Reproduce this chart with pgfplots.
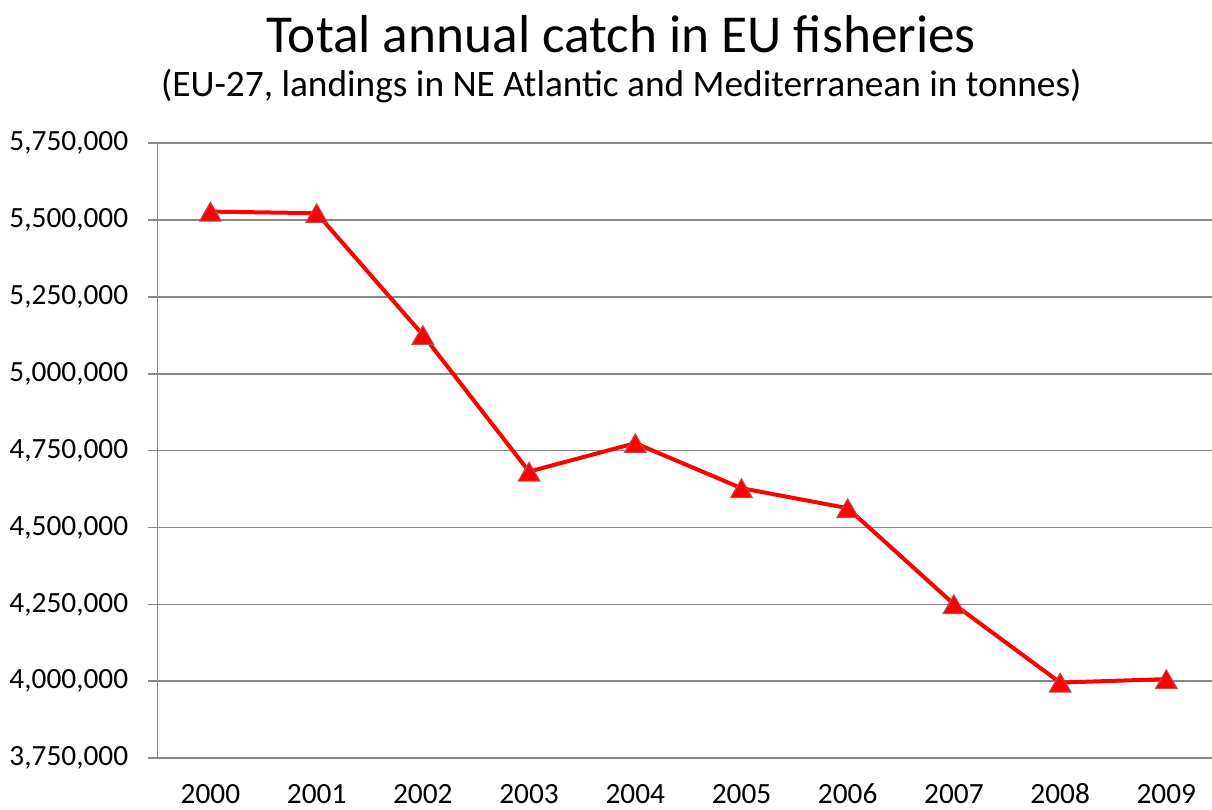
\documentclass[border=0pt]{standalone}
\usepackage{pgfplots}
\pgfplotsset{compat=1.18}
\usepackage{fontspec}
\setmainfont[Numbers=Lining]{Carlito}
\definecolor{gridgray}{RGB}{134,134,134}
\definecolor{mkedge}{RGB}{192,80,77}
\begin{document}
\begin{tikzpicture}
\useasboundingbox (-59pt,-19.4pt) rectangle (395.5pt,284.3pt);
\begin{axis}[
  at={(0,0)}, anchor=south west,
  scale only axis, width=395.5pt, height=230.6pt,
  xmin=-0.5, xmax=9.43, ymin=3750000, ymax=5750000,
  axis x line*=bottom, axis y line*=left,
  axis line style={-, gridgray, line width=0.6pt},
  clip=false,
  xtick={0,1,2,3,4,5,6,7,8,9},
  xticklabels={2000,2001,2002,2003,2004,2005,2006,2007,2008,2009},
  xtick style={draw=none},
  minor xtick={-0.5,0.5,1.5,2.5,3.5,4.5,5.5,6.5,7.5,8.5},
  minor tick length=3.4pt,
  major tick length=3.4pt,
  tick align=outside,
  minor tick style={gridgray, line width=0.6pt},
  ytick={3750000,4000000,4250000,4500000,4750000,5000000,5250000,5500000,5750000},
  ytick style={gridgray, line width=0.6pt},
  scaled y ticks=false,
  ymajorgrids,
  major grid style={gridgray, line width=0.6pt},
  tick label style={font=\fontsize{11}{13}\selectfont, text=black},
  yticklabel style={/pgf/number format/fixed, /pgf/number format/precision=0,
    /pgf/number format/1000 sep={,}, /pgf/number format/assume math mode=true, xshift=-4pt},
  xticklabel style={/pgf/number format/assume math mode=true, anchor=base, yshift=-13.5pt},
]
\addplot[red, line width=1.5pt, mark=triangle*, mark size=4.7pt,
  mark options={fill=red, draw=mkedge, line width=0.4pt, yshift=-1.2pt}]
  coordinates {(0,5527600)(1,5522400)(2,5126600)(3,4682000)(4,4774400)
               (5,4628000)(6,4563000)(7,4250800)(8,3995800)(9,4007000)};
\end{axis}
\node[anchor=base, font=\fontsize{20}{24}\selectfont] at (174pt,264.8pt) {Total annual catch in EU fisheries};
\node[anchor=base, font=\fontsize{14}{17}\selectfont] at (174pt,248.3pt) {(EU-27, landings in NE Atlantic and Mediterranean in tonnes)};
\end{tikzpicture}
\end{document}
